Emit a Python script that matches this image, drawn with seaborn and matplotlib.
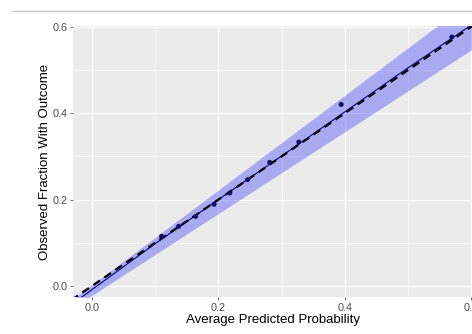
import matplotlib
matplotlib.use("Agg")
import matplotlib.pyplot as plt
import seaborn as sns
import pandas as pd
from matplotlib.lines import Line2D

# ---- data ----
point_x = [0.110, 0.137, 0.164, 0.193, 0.218, 0.246, 0.281, 0.327, 0.394, 0.569]
point_y = [0.115, 0.138, 0.161, 0.189, 0.215, 0.246, 0.286, 0.333, 0.420, 0.576]

fit_x = [-0.016, 0.1, 0.2, 0.3, 0.4, 0.5, 0.598]
fit_y = [-0.0255, 0.098, 0.200, 0.301, 0.403, 0.505, 0.602]

band_x = [-0.03, 0.61]
band_lower = [-0.050, 0.556]
band_upper = [-0.030, 0.672]

ref_x = [-0.05, 0.65]
ref_y = [-0.05, 0.65]

major_ticks = [0.0, 0.2, 0.4, 0.6]
minor_ticks = [0.1, 0.3, 0.5]
tick_labels = ["0.0", "0.2", "0.4", "0.6"]

x_label = "Average Predicted Probability"
y_label = "Observed Fraction With Outcome"

# ---- style ----
sns.set_theme(style="darkgrid")
plt.rcParams["font.family"] = ["Liberation Sans", "DejaVu Sans"]

fig = plt.figure(figsize=(4.72, 3.34), dpi=100)
fig.patch.set_facecolor("white")
ax = fig.add_axes([73 / 472, 37 / 334, 400 / 472, 271 / 334])
ax.set_facecolor("#EBEBEB")

ax.fill_between(band_x, band_lower, band_upper, color="blue", alpha=0.28,
                linewidth=0, zorder=2)

pts = pd.DataFrame({"x": point_x, "y": point_y})
fit = pd.DataFrame({"x": fit_x, "y": fit_y})
ref = pd.DataFrame({"x": ref_x, "y": ref_y})

sns.lineplot(data=fit, x="x", y="y", ax=ax, color="#000080", linewidth=0.8,
             sort=False, zorder=3)
sns.lineplot(data=ref, x="x", y="y", ax=ax, color="black", linewidth=1.6,
             linestyle=(0, (3.6, 2.4)), zorder=4)
sns.scatterplot(data=pts, x="x", y="y", ax=ax, color="#10106a", s=13,
                edgecolor="none", zorder=5)

ax.set_xlim(-0.030, 0.6024)
ax.set_ylim(-0.0255, 0.6015)

ax.set_xticks(major_ticks)
ax.set_xticklabels(tick_labels)
ax.set_yticks(major_ticks)
ax.set_yticklabels(tick_labels)
ax.set_xticks(minor_ticks, minor=True)
ax.set_yticks(minor_ticks, minor=True)

ax.grid(which="major", color="white", linewidth=0.8)
ax.grid(which="minor", color="white", linewidth=0.4)
ax.set_axisbelow(True)
for s in ax.spines.values():
    s.set_visible(False)

ax.tick_params(axis="both", which="major", length=2.5, width=0.6,
               color="#555555", labelcolor="#4D4D4D", labelsize=7.8, pad=1.5,
               bottom=True, left=True)
ax.tick_params(axis="both", which="minor", length=0)

ax.set_xlabel(x_label, fontsize=9.5, color="black", labelpad=1.0)
ax.set_ylabel(y_label, fontsize=9.5, color="black", labelpad=1.0)

fig.add_artist(Line2D([12 / 472, 1.0], [1 - 10.7 / 334, 1 - 10.7 / 334],
                      transform=fig.transFigure, color="#C4C4C4", linewidth=1.0))

fig.savefig("out.png", dpi=100, facecolor="white")
